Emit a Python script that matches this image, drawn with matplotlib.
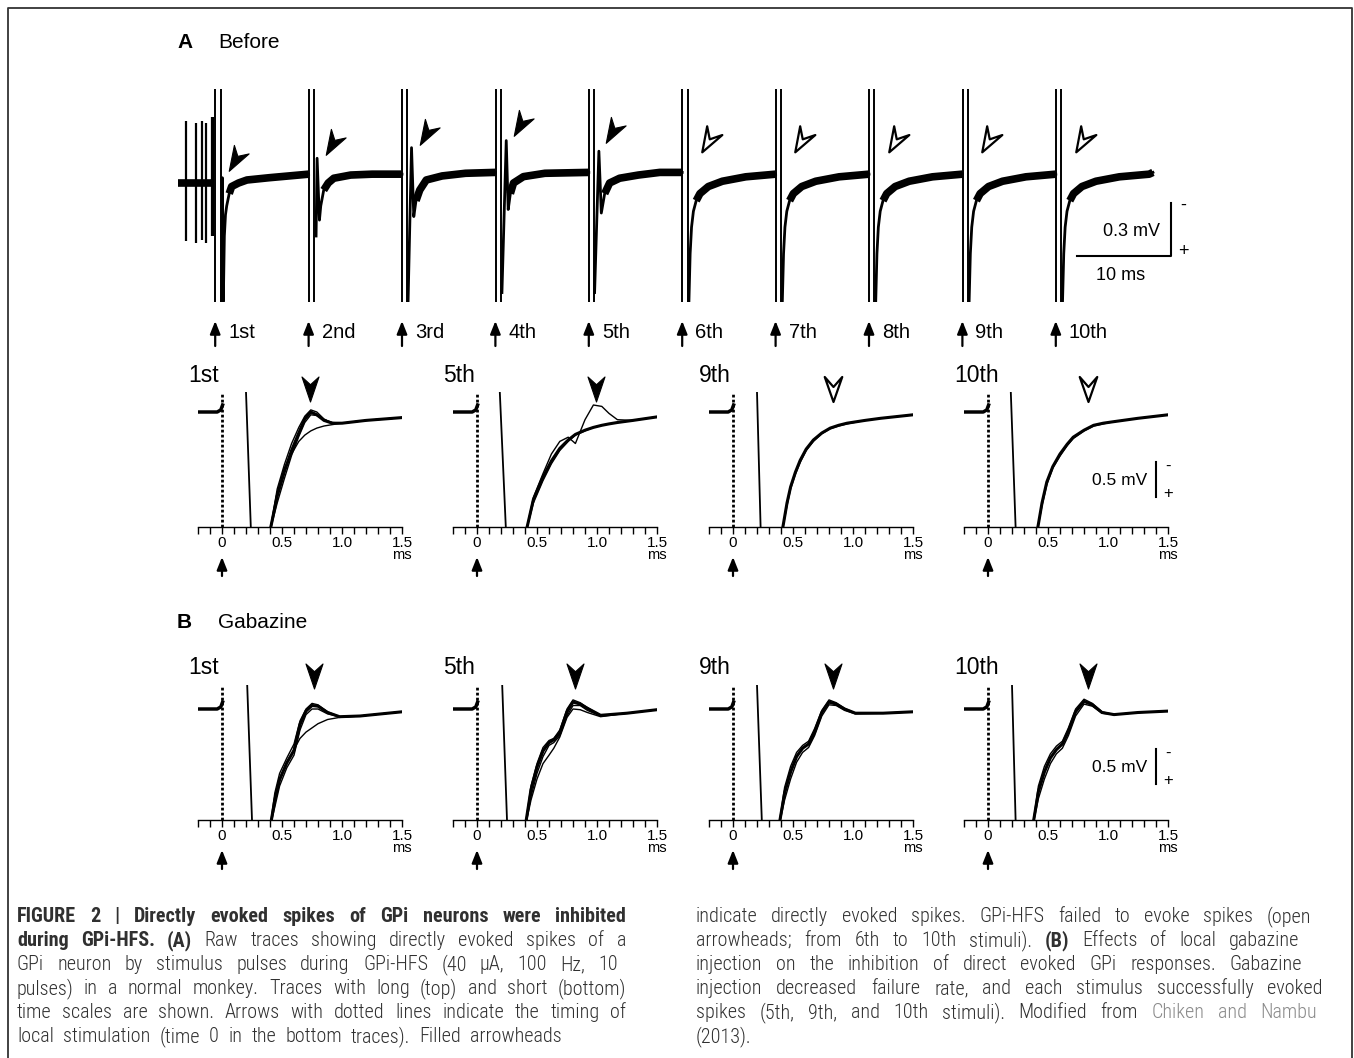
import numpy as np
import matplotlib
matplotlib.use("Agg")
import matplotlib.pyplot as plt
from matplotlib import font_manager
from matplotlib.path import Path
from matplotlib.markers import MarkerStyle
from matplotlib.transforms import Affine2D, blended_transform_factory

W, H = 1354, 1058
plt.rcParams["font.family"] = ["Liberation Sans", "DejaVu Sans"]

# ---------------------------------------------------------------------------
# Daten: lange Zeitskala (oben), Zeiten in ms, Spannung in mV (+ nach unten)
stim_times = [0, 10, 20, 30, 40, 50, 60, 70, 80, 90]
stim_labels = ["1st", "2nd", "3rd", "4th", "5th", "6th", "7th", "8th", "9th", "10th"]
evoked = [True, True, True, True, True, False, False, False, False, False]

pre_base_t = [-4.3, -0.4]
pre_base_v = [0.0, 0.0]
pre_spike_t = [-3.39, -2.32, -1.68, -1.28, -0.67, -0.5]
pre_spike_top = [-0.35, -0.34, -0.35, -0.34, -0.375, -0.375]
pre_spike_bottom = [0.33, 0.34, 0.32, 0.34, 0.30, 0.30]

ev_t = [
    [0.38, 0.46, 0.57, 0.68, 0.8, 0.93, 1.2, 1.46, 2.2, 3.1, 5.5, 9.7],
    [0.5, 0.61, 0.86, 1.0, 1.32, 1.8, 2.4, 4.2, 6.5, 9.7],
    [0.35, 0.72, 0.96, 1.2, 1.6, 2.3, 4.0, 6.5, 9.7],
    [0.4, 0.86, 1.07, 1.3, 1.64, 2.7, 5.0, 9.7],
    [0.32, 0.78, 1.04, 1.4, 1.93, 3.0, 5.0, 7.3, 9.7],
]
ev_v = [
    [0.67, -0.03, 0.67, 0.3, 0.18, 0.13, 0.06, 0.02, 0.0, -0.017, -0.03, -0.05],
    [0.3, -0.14, 0.21, 0.13, 0.04, 0.0, -0.027, -0.045, -0.05, -0.05],
    [0.67, -0.2, 0.19, 0.1, 0.04, -0.017, -0.04, -0.055, -0.06],
    [0.62, -0.24, 0.15, 0.06, 0.0, -0.036, -0.055, -0.06],
    [0.62, -0.18, 0.17, 0.06, 0.0, -0.027, -0.045, -0.06, -0.06],
]
fail_t = [0.42, 0.55, 0.7, 0.9, 1.2, 1.6, 2.5, 4.0, 6.5, 9.7]
fail_v = [0.67, 0.4, 0.25, 0.16, 0.1, 0.06, 0.02, -0.01, -0.035, -0.05]
end_t, end_v = 10.1, -0.06

top_head_t = [1.82, 2.2, 2.3, 2.36, 2.19, 2.46, 2.46, 2.46, 2.46, 2.46]
top_head_v = [-0.13, -0.22, -0.28, -0.33, -0.29, -0.24, -0.24, -0.24, -0.24, -0.24]

# Daten: kurze Zeitskala (A: Before, B: Gabazine)
short_labels = ["1st", "5th", "9th", "10th"]

A_t = [
    [0.40, 0.46, 0.52, 0.58, 0.64, 0.69, 0.74, 0.79, 0.85, 0.92, 1.0, 1.2, 1.5],
    [0.41, 0.47, 0.55, 0.62, 0.69, 0.76, 0.82, 0.9, 0.97, 1.04, 1.1, 1.17, 1.3, 1.5],
    [0.41, 0.45, 0.48, 0.52, 0.56, 0.61, 0.67, 0.74, 0.81, 0.88, 0.95, 1.1, 1.23, 1.5],
    [0.41, 0.45, 0.49, 0.54, 0.6, 0.66, 0.71, 0.8, 0.88, 0.96, 1.04, 1.25, 1.5],
]
A_v = [
    [[1.7, 1.2, 0.85, 0.55, 0.3, 0.1, 0.0, 0.04, 0.12, 0.16, 0.16, 0.12, 0.08],
     [1.7, 1.3, 0.95, 0.62, 0.35, 0.15, 0.04, 0.05, 0.11, 0.15, 0.16, 0.12, 0.08],
     [1.7, 1.1, 0.75, 0.45, 0.22, 0.06, -0.03, 0.0, 0.1, 0.16, 0.16, 0.12, 0.08],
     [1.7, 1.15, 0.8, 0.6, 0.42, 0.33, 0.27, 0.23, 0.2, 0.18, 0.16, 0.12, 0.08]],
    [[1.7, 1.25, 0.93, 0.7, 0.52, 0.4, 0.32, 0.26, 0.22, 0.19, 0.17, 0.15, 0.12, 0.07],
     [1.7, 1.3, 0.98, 0.74, 0.55, 0.42, 0.33, 0.27, 0.22, 0.19, 0.17, 0.15, 0.12, 0.07],
     [1.7, 1.22, 0.88, 0.6, 0.42, 0.36, 0.45, 0.11, -0.1, -0.08, 0.02, 0.11, 0.12, 0.07]],
    [[1.7, 1.3, 1.07, 0.86, 0.69, 0.53, 0.4, 0.3, 0.23, 0.19, 0.16, 0.12, 0.09, 0.04],
     [1.7, 1.34, 1.1, 0.89, 0.72, 0.55, 0.42, 0.31, 0.24, 0.2, 0.17, 0.12, 0.09, 0.04]],
    [[1.7, 1.3, 1.0, 0.78, 0.6, 0.46, 0.36, 0.26, 0.19, 0.16, 0.14, 0.09, 0.04],
     [1.7, 1.34, 1.04, 0.8, 0.63, 0.48, 0.38, 0.27, 0.2, 0.17, 0.14, 0.09, 0.04]],
]
A_art_start = [0.2, 0.19, 0.2, 0.19]
A_art_end = [0.24, 0.24, 0.23, 0.23]
A_head_t = [0.73, 0.99, 0.83, 0.83]
A_filled = [True, True, False, False]

B_t = [
    [0.40, 0.44, 0.48, 0.54, 0.6, 0.65, 0.7, 0.75, 0.8, 0.88, 0.98, 1.15, 1.5],
    [0.40, 0.45, 0.5, 0.55, 0.6, 0.64, 0.69, 0.75, 0.8, 0.86, 0.92, 1.03, 1.25, 1.5],
    [0.38, 0.43, 0.48, 0.53, 0.58, 0.63, 0.68, 0.74, 0.8, 0.86, 0.93, 1.02, 1.25, 1.5],
    [0.37, 0.42, 0.47, 0.52, 0.57, 0.62, 0.67, 0.73, 0.8, 0.87, 0.95, 1.05, 1.25, 1.5],
]
B_v = [
    [[1.7, 1.3, 1.01, 0.77, 0.59, 0.22, 0.03, -0.05, -0.04, 0.05, 0.11, 0.1, 0.04],
     [1.7, 1.2, 0.92, 0.7, 0.5, 0.17, 0.0, -0.08, -0.06, 0.04, 0.11, 0.1, 0.04],
     [1.7, 1.4, 1.1, 0.84, 0.66, 0.3, 0.08, 0.0, 0.0, 0.07, 0.11, 0.1, 0.04],
     [1.7, 1.3, 1.0, 0.76, 0.58, 0.42, 0.33, 0.27, 0.21, 0.15, 0.12, 0.1, 0.04]],
    [[1.7, 1.15, 0.83, 0.6, 0.48, 0.44, 0.34, 0.04, -0.1, -0.07, -0.01, 0.09, 0.06, 0.01],
     [1.7, 1.25, 0.92, 0.68, 0.52, 0.48, 0.38, 0.1, -0.05, -0.05, 0.02, 0.1, 0.06, 0.01],
     [1.7, 1.1, 0.78, 0.55, 0.45, 0.42, 0.3, 0.0, -0.13, -0.09, -0.02, 0.09, 0.06, 0.01],
     [1.7, 1.3, 1.0, 0.78, 0.66, 0.56, 0.4, 0.12, 0.0, 0.01, 0.05, 0.11, 0.06, 0.01]],
    [[1.7, 1.2, 0.9, 0.68, 0.56, 0.5, 0.33, 0.05, -0.1, -0.07, 0.0, 0.06, 0.06, 0.04],
     [1.7, 1.3, 1.0, 0.76, 0.62, 0.55, 0.38, 0.1, -0.06, -0.05, 0.02, 0.07, 0.06, 0.04],
     [1.7, 1.12, 0.82, 0.62, 0.52, 0.46, 0.28, 0.02, -0.13, -0.09, -0.01, 0.06, 0.06, 0.04]],
    [[1.7, 1.18, 0.9, 0.7, 0.58, 0.5, 0.32, 0.04, -0.11, -0.06, 0.05, 0.08, 0.05, 0.03],
     [1.7, 1.28, 1.0, 0.78, 0.64, 0.56, 0.38, 0.1, -0.07, -0.04, 0.06, 0.08, 0.05, 0.03],
     [1.7, 1.1, 0.82, 0.64, 0.53, 0.46, 0.27, 0.0, -0.14, -0.08, 0.04, 0.08, 0.05, 0.03]],
]
B_art_start = [0.21, 0.21, 0.2, 0.2]
B_art_end = [0.25, 0.25, 0.24, 0.23]
B_head_t = [0.77, 0.82, 0.83, 0.83]
B_filled = [True, True, True, True]

short_pre_t = [-0.2, -0.04, -0.01, 0.005]
short_pre_v = [0.0, 0.0, -0.03, -0.1]

# Legende / Text
caption_left = [
    [("FIGURE 2 | Directly evoked spikes of GPi neurons were inhibited", "bold", "body")],
    [("during GPi-HFS. (A)", "bold", "body"),
     ("Raw traces showing directly evoked spikes of a", "light", "body")],
    [("GPi neuron by stimulus pulses during GPi-HFS (40 \u03bcA, 100 Hz, 10", "light", "body")],
    [("pulses) in a normal monkey. Traces with long (top) and short (bottom)", "light", "body")],
    [("time scales are shown. Arrows with dotted lines indicate the timing of", "light", "body")],
    [("local stimulation (time 0 in the bottom traces). Filled arrowheads", "light", "body")],
]
caption_right = [
    [("indicate directly evoked spikes. GPi-HFS failed to evoke spikes (open", "light", "body")],
    [("arrowheads; from 6th to 10th stimuli).", "light", "body"), ("(B)", "bold", "body"),
     ("Effects of local gabazine", "light", "body")],
    [("injection on the inhibition of direct evoked GPi responses. Gabazine", "light", "body")],
    [("injection decreased failure rate, and each stimulus successfully evoked", "light", "body")],
    [("spikes (5th, 9th, and 10th stimuli). Modified from", "light", "body"),
     ("Chiken and Nambu", "light", "link")],
    [("(2013).", "light", "body")],
]
left_x0, right_x0 = 17, 696
left_ends = [626, 626, 618, 626, 626, 562]
right_ends = [1311, 1299, 1302, 1323, 1317, None]
caption_colors = {"body": "#303030", "link": "#8a8a8a"}

# ---------------------------------------------------------------------------
PX_MS_TOP, PX_MV_TOP = 9.34, 176.7     # Pixel pro ms / mV oben
X0_TOP, BASE_TOP = 218, 183
PX_MS_S, PX_MV_S = 120, 70             # kurze Zeitskala
panel_zero_px = [222, 477, 733, 988]
rows = {
    "A": dict(top=392, base=412, axis=527, label=376, head=389),
    "B": dict(top=685, base=709, axis=820, label=667, head=676),
}

HEAD = Path([(0, -1), (0.68, 1), (0, 0.38), (-0.68, 1), (0, -1)],
            [Path.MOVETO, Path.LINETO, Path.LINETO, Path.LINETO, Path.CLOSEPOLY])
HEAD_OPEN = Path([(0, -1), (0.7, 1), (0, 0.2), (-0.7, 1), (0, -1)],
                 [Path.MOVETO, Path.LINETO, Path.LINETO, Path.LINETO, Path.CLOSEPOLY])


def head_marker(angle, filled):
    return MarkerStyle(HEAD if filled else HEAD_OPEN,
                       transform=Affine2D().rotate_deg(angle))


def px_axes(fig, x0, y0, x1, y1):
    ax = fig.add_axes([x0 / W, 1 - y1 / H, (x1 - x0) / W, (y1 - y0) / H])
    ax.set_facecolor("none")
    return ax


def up_arrow(ax, tr, x, y_top, y_bot):
    ax.annotate("", xy=(x, y_top), xytext=(x, y_bot), xycoords=tr, textcoords=tr,
                annotation_clip=False,
                arrowprops=dict(arrowstyle="-|>,head_length=0.55,head_width=0.22",
                                color="k", lw=1.6, shrinkA=0, shrinkB=0,
                                mutation_scale=14))


def draw_head(ax, tr, x, y, filled, angle, ms=18):
    ax.plot([x], [y], transform=tr, marker=head_marker(angle, filled), ms=ms,
            mfc="k" if filled else "white", mec="k", mew=0.8 if filled else 1.6,
            ls="none", clip_on=False, zorder=5)


fig = plt.figure(figsize=(W / 100, H / 100), dpi=100)
ov = fig.add_axes([0, 0, 1, 1])
ov.set_xlim(0, W)
ov.set_ylim(H, 0)
ov.axis("off")

# Rahmen
ov.plot([8, 8, W - 2, W - 2], [H, 8, 8, H], color="#333333", lw=1.3)

# Ueberschriften
ov.text(177, 42, "A", fontsize=15, fontweight="bold", va="center")
ov.text(218, 42, "Before", fontsize=15, va="center")
ov.text(177, 623, "B", fontsize=15, fontweight="bold", va="center")
ov.text(218, 623, "Gabazine", fontsize=15, va="center")

# ---------------------------------------------------------------------------
# Obere Spur (lange Zeitskala)
ax = px_axes(fig, 170, 89, 1160, 302)
ax.set_xlim((170 - X0_TOP) / PX_MS_TOP, (1160 - X0_TOP) / PX_MS_TOP)
ax.set_ylim((302 - BASE_TOP) / PX_MV_TOP, (89 - BASE_TOP) / PX_MV_TOP)
ax.axis("off")

ax.plot(pre_base_t, pre_base_v, color="k", lw=5.5, solid_capstyle="butt")
ax.vlines(pre_spike_t, pre_spike_top, pre_spike_bottom, color="k", lw=1.6)

tr_top = blended_transform_factory(ax.transData, ov.transData)
for i, t0 in enumerate(stim_times):
    ax.vlines([t0 - 0.27, t0 + 0.27], -1, 1, color="k", lw=1.4)
    if evoked[i]:
        t_rel, v = list(ev_t[i]), list(ev_v[i])
    else:
        t_rel, v = list(fail_t), list(fail_v)
    if i == len(stim_times) - 1:
        t_rel.append(end_t)
        v.append(end_v)
    t_abs = np.asarray(t_rel) + t0
    v = np.asarray(v)
    ax.plot(t_abs, v, color="k", lw=2.0, solid_joinstyle="round")
    keep = np.asarray(t_rel) >= 1.2
    ax.plot(t_abs[keep], v[keep], color="k", lw=5.5, solid_capstyle="butt")
    draw_head(ax, ax.transData, t0 + top_head_t[i], top_head_v[i], evoked[i], -30)
    # Reizmarke
    up_arrow(ov, tr_top, t0 - 0.3, 321, 346)
    ov.text(t0 + 1.1, 332, stim_labels[i], transform=tr_top, fontsize=14.5,
            va="center", ha="left")

# Skalenbalken oben
ax.plot([92, 102, 102], [0.413, 0.413, 0.113], color="k", lw=1.5, clip_on=False)
ov.text(1160, 231, "0.3 mV", fontsize=13, ha="right", va="center")
ov.text(1121, 275, "10 ms", fontsize=13, ha="center", va="center")
ov.text(1183, 205, "-", fontsize=13, ha="center", va="center")
ov.text(1183, 252, "+", fontsize=13, ha="center", va="center")


# ---------------------------------------------------------------------------
def short_panel(row, k, t_grid, traces, art0, art1, head_t, filled, scale_bar):
    r = rows[row]
    z = panel_zero_px[k]
    a = px_axes(fig, z - 0.2 * PX_MS_S, r["top"], z + 1.5 * PX_MS_S, r["axis"])
    a.set_xlim(-0.2, 1.5)
    y_bot = (r["axis"] - r["base"]) / PX_MV_S
    y_top = (r["top"] - r["base"]) / PX_MV_S
    a.set_ylim(y_bot, y_top)
    for side in ("left", "top", "right"):
        a.spines[side].set_visible(False)
    a.spines["bottom"].set_linewidth(1.0)
    a.set_yticks([])
    a.set_xticks([0, 0.5, 1.0, 1.5])
    a.set_xticklabels(["0", "0.5", "1.0", "1.5"])
    a.set_xticks(np.round(np.arange(-2, 16) / 10, 1), minor=True)
    a.tick_params(axis="x", which="both", direction="out", length=5, width=1,
                  pad=1.5, labelsize=11)

    a.plot([0, 0], [y_bot, y_top], color="k", lw=2.0, ls=(0, (1.0, 0.8)))
    a.plot(short_pre_t, short_pre_v, color="k", lw=2.5)
    a.plot([art0, art1], [y_top, y_bot], color="k", lw=1.3)
    for j, v in enumerate(traces):
        a.plot(t_grid, v, color="k", lw=2.2 if j == 0 else 1.0)

    tr = blended_transform_factory(a.transData, ov.transData)
    ov.text(z - 34, r["label"], short_labels[k], fontsize=16.5, va="center", ha="left")
    draw_head(ov, tr, head_t, r["head"], filled, 0)
    ov.text(1.5, r["axis"] + 28, "ms", transform=tr, fontsize=10.5, ha="center",
            va="center")
    up_arrow(ov, tr, 0, r["axis"] + 30, r["axis"] + 49)

    if scale_bar:
        bar_top = y_top + (r["head"] + 73 - r["top"]) / PX_MV_S
        a.plot([1.4, 1.4], [bar_top, bar_top + 0.5], color="k", lw=1.5, clip_on=False)
        a.text(1.325, bar_top + 0.26, "0.5 mV", fontsize=12.5, ha="right", va="center")
        a.text(1.5, bar_top + 0.06, "-", fontsize=12, ha="center", va="center")
        a.text(1.5, bar_top + 0.45, "+", fontsize=12, ha="center", va="center")


for k in range(4):
    short_panel("A", k, A_t[k], A_v[k], A_art_start[k], A_art_end[k], A_head_t[k],
                A_filled[k], k == 3)
    short_panel("B", k, B_t[k], B_v[k], B_art_start[k], B_art_end[k], B_head_t[k],
                B_filled[k], k == 3)

# ---------------------------------------------------------------------------
# Bildunterschrift, Blocksatz
names = {f.name for f in font_manager.fontManager.ttflist}
cap_font = "Roboto"
for cand in ("Liberation Sans Narrow", "Roboto Condensed", "Open Sans Condensed"):
    if cand in names:
        cap_font = cand
        break
cap_family = [cap_font, "DejaVu Sans"]
renderer = fig.canvas.get_renderer()
MIN_GAP = 3.0


def words_of(parts):
    out = []
    for text, weight, col in parts:
        for w in text.split(" "):
            out.append((w, weight, caption_colors[col]))
    return out


def width_of(word, weight, size):
    t = fig.text(0, 0, word, fontsize=size, fontweight=weight, family=cap_family)
    w = t.get_window_extent(renderer).width
    t.remove()
    return w


def natural(parts, size):
    ws = words_of(parts)
    return sum(width_of(w, wt, size) for w, wt, _ in ws) + (len(ws) - 1) * MIN_GAP


columns = ((caption_left, left_x0, left_ends), (caption_right, right_x0, right_ends))


def regular_fits(size):
    for lines, x0, ends in columns:
        for parts, x1 in zip(lines, ends):
            if x1 is None or any(wt == "bold" for _, wt, _ in parts):
                continue
            if natural(parts, size) > x1 - x0:
                return False
    return True


cap_size = 14.5
while cap_size > 9 and not regular_fits(cap_size):
    cap_size -= 0.25

baselines = [922, 946, 970, 994, 1018, 1042]
for lines, x0, ends in columns:
    for parts, x1, yb in zip(lines, ends, baselines):
        size = cap_size
        if x1 is not None:
            while size > 8 and natural(parts, size) > x1 - x0:
                size -= 0.25
        ws = words_of(parts)
        objs, widths = [], []
        for w, wt, col in ws:
            t = fig.text(0, 0, w, fontsize=size, fontweight=wt, color=col,
                         family=cap_family, va="baseline", ha="left")
            objs.append(t)
            widths.append(t.get_window_extent(renderer).width)
        if x1 is not None and len(objs) > 1:
            gap = (x1 - x0 - sum(widths)) / (len(objs) - 1)
        else:
            gap = 0.25 * size * 100 / 72
        x = x0
        for t, w in zip(objs, widths):
            t.set_position((x / W, 1 - yb / H))
            x += w + gap

fig.savefig("out.png", dpi=100)
